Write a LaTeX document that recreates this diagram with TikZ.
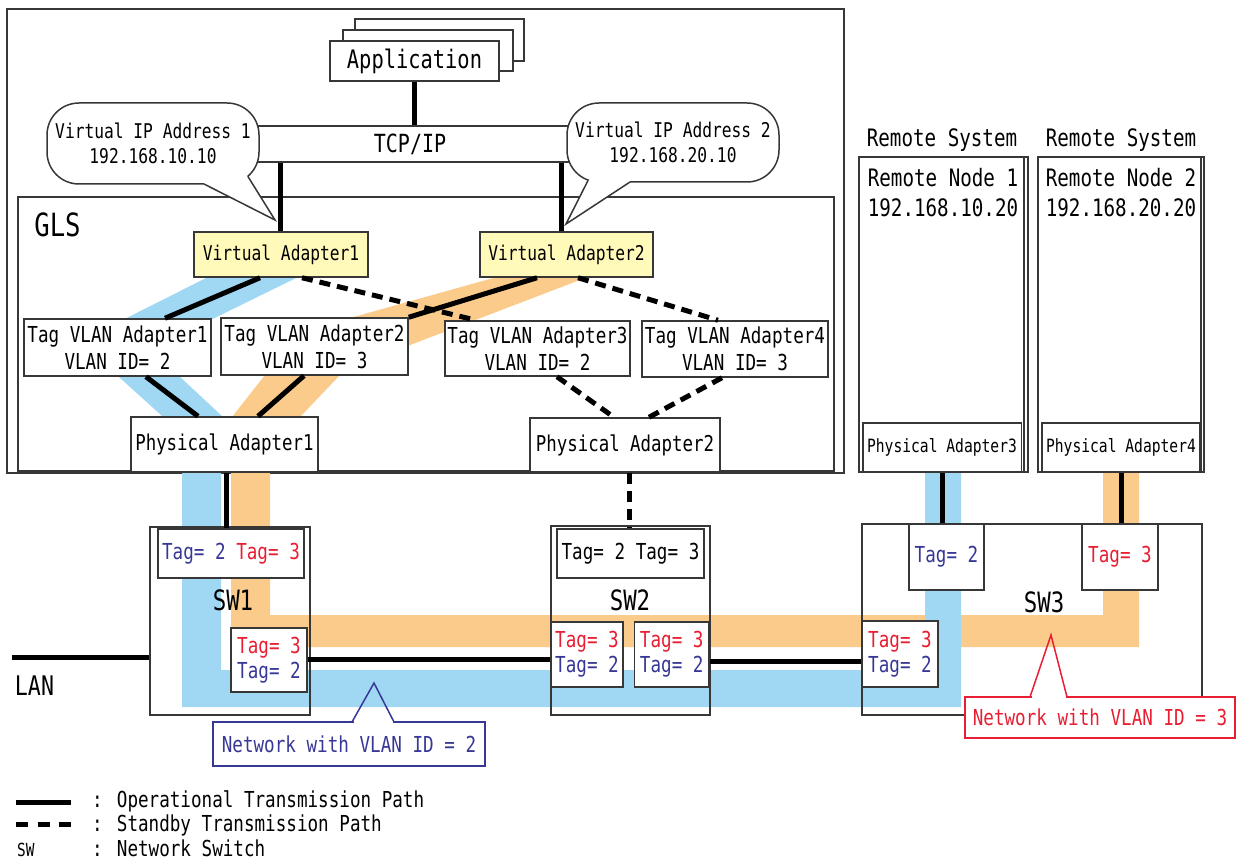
\documentclass[tikz,border=0pt]{standalone}
\usepackage{fontspec}
\newfontfamily\dg[FakeStretch=0.8]{DejaVu Sans Mono}
\newcommand\dgs[2]{\dg\fontsize{#1}{#2}\selectfont}
\definecolor{bordc}{RGB}{55,55,55}
\definecolor{vayel}{RGB}{255,250,185}
\definecolor{bandblue}{RGB}{160,216,244}
\definecolor{bandorg}{RGB}{250,203,138}
\definecolor{tblue}{RGB}{55,55,150}
\definecolor{tred}{RGB}{232,30,50}
\begin{document}
\begin{tikzpicture}[x=1pt,y=-1pt,
  wh/.style 2 args={minimum width=#1pt,minimum height=#2pt},
  frame/.style={draw=bordc,line width=1.5pt,inner sep=0pt},
  bx/.style={draw=bordc,line width=1.5pt,fill=white,inner sep=0pt,align=center,font=\dgs{22}{27}},
  txt/.style={inner sep=0pt,align=center,font=\dgs{22}{27}},
  opline/.style={line width=5pt},
  sbline/.style={line width=5pt,dash pattern=on 11pt off 7pt},
  tailedge/.style={draw=bordc,line width=1.5pt,line join=miter}]
\useasboundingbox (0,0) rectangle (1237,861);

% host and GLS frames
\node[frame, wh={837}{464}] (host) at (425.5,241) {};
\node[frame, wh={816}{274}] (gls) at (426,334) {};
\node[txt, font=\dgs{32}{36}] (glslbl) at (57.5,225) {GLS};

% bands
\fill[bandblue] (222,270) -- (312.4,270) -- (190.2,330) -- (102.7,330) -- cycle;
\fill[bandblue] (109,368) -- (170.5,368) -- (231.6,425) -- (172,425) -- cycle;
\fill[bandorg] (522,270) -- (606,270) -- (431,337) -- (406,346.6) -- (325,346) -- (325,325) -- cycle;
\fill[bandorg] (270.5,368) -- (346.7,368) -- (292.4,425) -- (225.7,425) -- cycle;
\fill[bandorg] (231,465) -- (270,465) -- (270,615) -- (1103,615) -- (1103,465) -- (1139,465) -- (1139,647) -- (231,647) -- cycle;
\fill[bandblue] (182,465) -- (221,465) -- (221,670) -- (925,670) -- (925,465) -- (961,465) -- (961,707) -- (182,707) -- cycle;

% application stack and TCP/IP
\node[bx, wh={169}{42}] (app3) at (439.5,40) {};
\node[bx, wh={170}{41}] (app2) at (428,50.5) {};
\node[bx, wh={169}{40}, font=\dgs{25.5}{30}] (app1) at (414.5,61) {Application};
\node[bx, wh={420}{36}, font=\dgs{25}{30}] (tcp) at (410,144) {TCP/IP};

% callouts
\node[bx, rounded corners=32pt, wh={212}{81}, font=\dgs{20.3}{25}] (vip1) at (153,143.5) {Virtual IP Address 1\\192.168.10.10};
\fill[white] (204,184) -- (275,220) -- (247.8,176.3) -- (236,172) -- (206,180) -- cycle;
\draw[tailedge] (204,184) -- (275,220) -- (247.8,176.3);
\node[bx, rounded corners=32pt, wh={212}{79}, font=\dgs{20.3}{25}] (vip2) at (673,142.5) {Virtual IP Address 2\\192.168.20.10};
\fill[white] (630,182) -- (566,224) -- (588.2,180.1) -- (596,176) -- (628,178) -- cycle;
\draw[tailedge] (630,182) -- (566,224) -- (588.2,180.1);

% virtual adapters
\node[bx, fill=vayel, wh={174}{45}, font=\dgs{20.3}{25}] (va1) at (281,254.5) {Virtual Adapter1};
\node[bx, fill=vayel, wh={173}{45}, font=\dgs{20.3}{25}] (va2) at (566.5,254.5) {Virtual Adapter2};

% tag vlan adapters
\node[bx, wh={187}{57}] (tva1) at (117.5,347.5) {Tag VLAN Adapter1\\VLAN ID= 2};
\node[bx, wh={187}{57}] (tva2) at (314.5,346.5) {Tag VLAN Adapter2\\VLAN ID= 3};
\node[bx, wh={185}{55}] (tva3) at (537.5,348.5) {Tag VLAN Adapter3\\VLAN ID= 2};
\node[bx, wh={186}{56}] (tva4) at (735,349) {Tag VLAN Adapter4\\VLAN ID= 3};

% physical adapters
\node[bx, wh={187}{55}, font=\dgs{21.8}{26}] (pa1) at (224.5,444.5) {Physical Adapter1};
\node[bx, wh={190}{54}, font=\dgs{21.8}{26}] (pa2) at (625,445) {Physical Adapter2};

% remote systems
\node[txt, font=\dgs{24}{28}] (rs1) at (942,140) {Remote System};
\node[txt, font=\dgs{24}{28}] (rs2) at (1121,140) {Remote System};
\node[frame, wh={169}{315}] (rem1) at (943.5,314.5) {};
\node[frame, wh={165}{315}] (rem1b) at (941.5,314.5) {};
\node[frame, wh={166}{315}] (rem2) at (1121,314.5) {};
\node[frame, wh={163}{315}] (rem2b) at (1119.5,314.5) {};
\node[txt, font=\dgs{24}{28}] (rn1) at (943,178) {Remote Node 1};
\node[txt, font=\dgs{24}{28}] (ip1) at (943,208) {192.168.10.20};
\node[txt, font=\dgs{24}{28}] (rn2) at (1121,178) {Remote Node 2};
\node[txt, font=\dgs{24}{28}] (ip2) at (1121,208) {192.168.20.20};
\node[bx, wh={158.5}{49}, font=\dgs{18.3}{22}] (pa3) at (942,447.5) {Physical Adapter3};
\node[bx, wh={158}{49}, font=\dgs{18.3}{22}] (pa4) at (1121,447.5) {Physical Adapter4};

% switches
\node[frame, wh={160}{188}] (sw1) at (230,621) {};
\node[bx, wh={146}{49}] (sw1top) at (231,553.5) {\textcolor{tblue}{Tag= 2} \textcolor{tred}{Tag= 3}};
\node[txt, font=\dgs{28}{32}] (sw1lbl) at (233,600) {SW1};
\node[bx, wh={76}{64}, font=\dgs{22}{25}] (sw1low) at (269,660) {\textcolor{tred}{Tag= 3}\\\textcolor{tblue}{Tag= 2}};

\node[frame, wh={159}{189}] (sw2) at (630.5,620.5) {};
\node[bx, wh={147}{49}] (sw2top) at (630.5,553.5) {Tag= 2 Tag= 3};
\node[txt, font=\dgs{28}{32}] (sw2lbl) at (630,600) {SW2};
\node[bx, wh={72}{65}, font=\dgs{22}{25}] (sw2lowa) at (587,654.5) {\textcolor{tred}{Tag= 3}\\\textcolor{tblue}{Tag= 2}};
\node[bx, wh={74.5}{65}, font=\dgs{22}{25}] (sw2lowb) at (671.75,654.5) {\textcolor{tred}{Tag= 3}\\\textcolor{tblue}{Tag= 2}};

\node[frame, wh={340}{191}] (sw3) at (1032,619.5) {};
\node[bx, wh={75}{66}] (sw3t1) at (946.5,557) {\textcolor{tblue}{Tag= 2}};
\node[bx, wh={76}{66}] (sw3t2) at (1120,557) {\textcolor{tred}{Tag= 3}};
\node[txt, font=\dgs{28}{32}] (sw3lbl) at (1044,602) {SW3};
\node[bx, wh={76}{66}, font=\dgs{22}{25}] (sw3low) at (900,654) {\textcolor{tred}{Tag= 3}\\\textcolor{tblue}{Tag= 2}};

\node[txt, font=\dgs{27}{30}] (lanlbl) at (34.5,686) {LAN};

% operational paths
\draw[opline] (app1.south) -- (app1.south |- tcp.north);
\draw[opline] ([xshift=-1pt]va1.north) -- ([xshift=-1pt]va1.north |- tcp.south);
\draw[opline] ([xshift=-5.5pt]va2.north) -- ([xshift=-5.5pt]va2.north |- tcp.south);
\draw[opline] ([xshift=-21pt]va1.south) -- ([xshift=47.5pt]tva1.north);
\draw[opline] ([xshift=28.5pt]tva1.south) -- ([xshift=-26.5pt]pa1.north);
\draw[opline] ([xshift=-29.5pt]va2.south) -- (tva2.north east);
\draw[opline] ([xshift=-10.5pt]tva2.south) -- ([xshift=33.5pt]pa1.north);
\draw[opline] ([xshift=1.5pt]pa1.south) -- ([xshift=1.5pt]pa1.south |- sw1top.north);
\draw[opline] (pa3.south) -- (pa3.south |- sw3t1.north);
\draw[opline] (pa4.south) -- (pa4.south |- sw3t2.north);
\coordinate (lanend) at (12,657.5);
\draw[opline] (lanend) -- (lanend -| sw1.west);
\draw[opline] ([yshift=0.5pt]sw1low.east) -- ([yshift=0.5pt]sw1low.east -| sw2lowa.west);
\draw[opline] ([yshift=-6.5pt]sw2lowb.east) -- ([yshift=-6.5pt]sw2lowb.east -| sw3low.west);

% standby paths
\draw[sbline] ([xshift=21pt]va1.south) -- ([xshift=-61.5pt]tva3.north);
\draw[sbline] ([xshift=11.5pt]va2.south) -- ([xshift=-17pt]tva4.north);
\draw[sbline] ([xshift=19.5pt]tva3.south) -- ([xshift=-11pt]pa2.north);
\draw[sbline] ([xshift=-13pt]tva4.south) -- ([xshift=24pt]pa2.north);
\draw[sbline] ([xshift=4pt]pa2.south) -- ([xshift=4pt]pa2.south |- sw2top.north);

% network callouts
\node[bx, draw=tblue, text=tblue, wh={272}{44}] (net2) at (349,744) {Network with VLAN ID = 2};
\draw[white, line width=2.5pt] (353.5,722) -- (392.5,722);
\draw[tblue, line width=1.5pt, line join=miter] (352,722) -- (374,683) -- (394,722);
\node[bx, draw=tred, text=tred, wh={270}{41}] (net3) at (1100,717.5) {Network with VLAN ID = 3};
\draw[white, line width=2.5pt] (1031.5,697) -- (1065.5,697);
\draw[tred, line width=1.5pt, line join=miter] (1030,697) -- (1051,635) -- (1067,697);

% legend
\coordinate (lg1a) at (16,802);
\coordinate (lg1b) at (71,802);
\draw[opline] (lg1a) -- (lg1b);
\coordinate (lg2a) at (16,824);
\coordinate (lg2b) at (71,824);
\draw[line width=5pt, dash pattern=on 12pt off 9.5pt] (lg2a) -- (lg2b);
\node[txt, anchor=base west] (lgt1) at (92,807) {: Operational Transmission Path};
\node[txt, anchor=base west] (lgt2) at (92,831) {: Standby Transmission Path};
\node[txt, anchor=base west] (lgt3) at (92,856) {: Network Switch};
\node[txt, anchor=base west, font=\dgs{18}{22}] (lgsw) at (17,856) {SW};
\end{tikzpicture}
\end{document}
